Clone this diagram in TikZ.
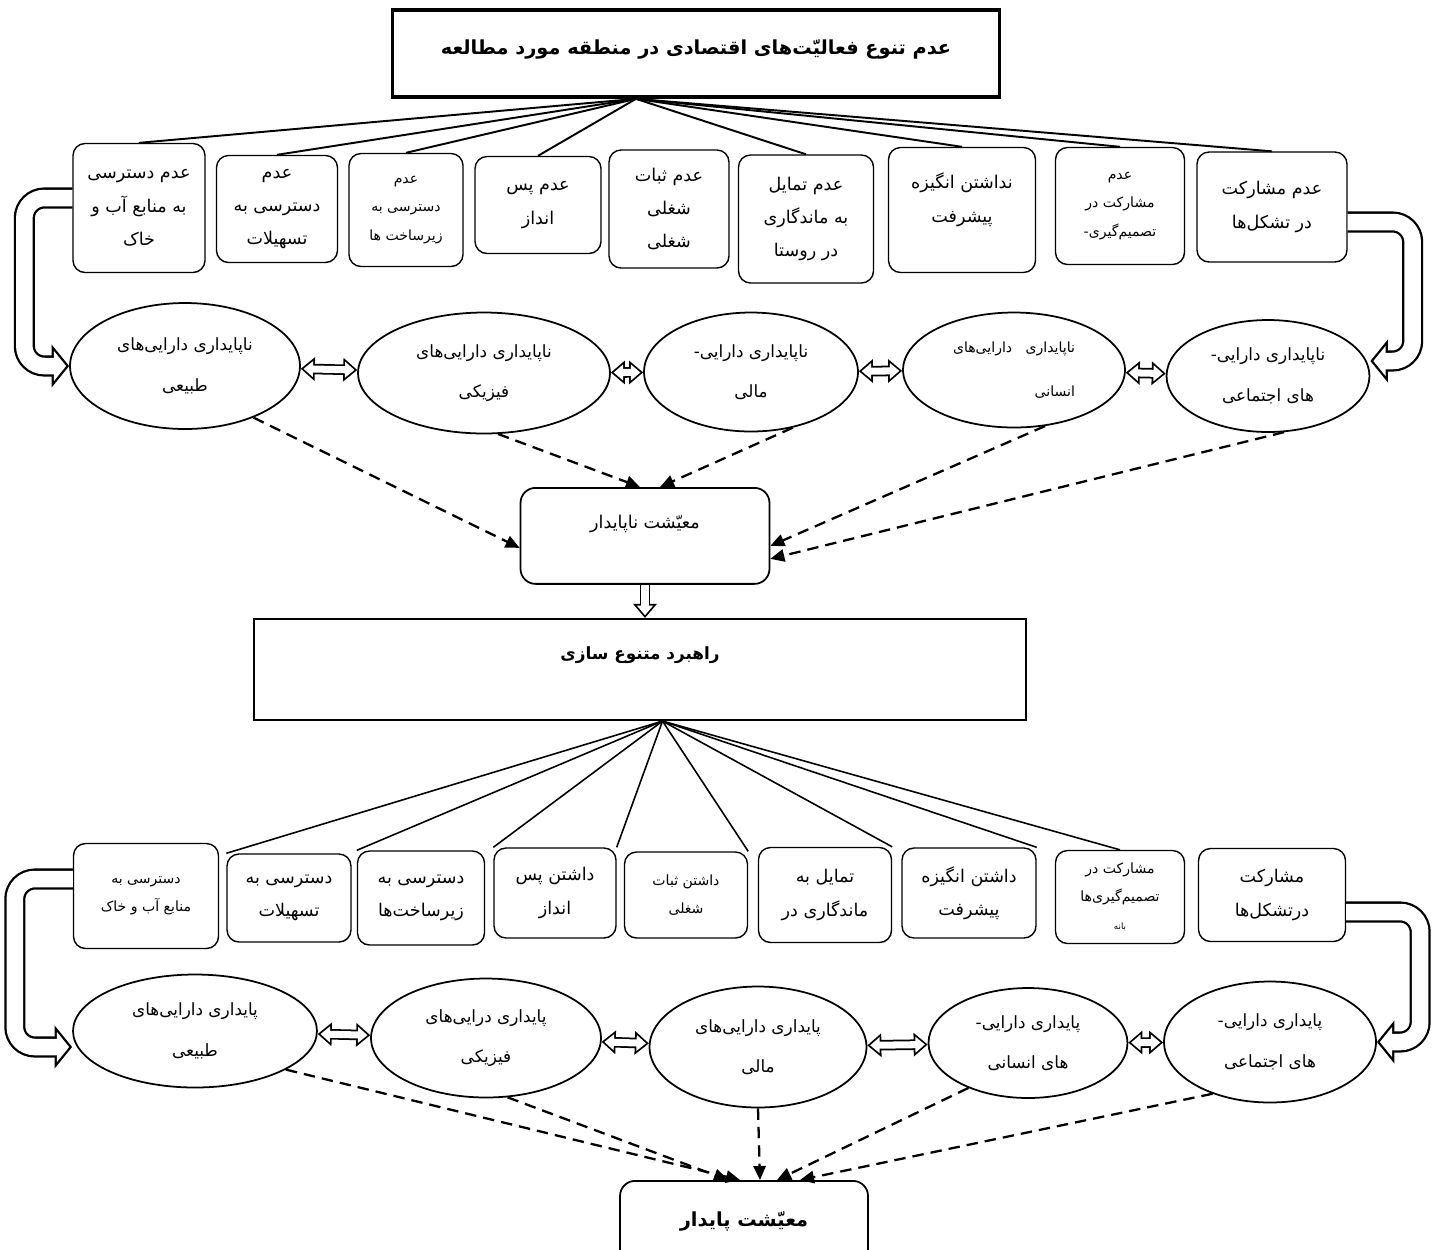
\documentclass[tikz,border=0pt]{standalone}
\usepackage{fontspec}
\usetikzlibrary{shapes.geometric,arrows.meta}
\newfontfamily\fafont[Script=Arabic]{DejaVu Sans}
\TeXXeTstate=1
\newcommand{\fa}[1]{\beginR #1\endR}

\tikzset{
  factor/.style={draw, rounded corners=0.24cm, line width=0.8pt, align=center,
    inner sep=1pt, font=\fafont\fontsize{10}{19}\selectfont},
  asset/.style={draw, ellipse, line width=1pt, inner sep=0pt, align=center,
    font=\fafont\fontsize{9.6}{23}\selectfont},
  smalltext/.style={font=\fafont\fontsize{8}{16}\selectfont},
  headbox/.style={draw, line width=1.2pt, inner sep=0pt, anchor=north,
    font=\fafont\bfseries\fontsize{11}{14}\selectfont},
  outcome/.style={headbox, rounded corners=0.3cm, line width=1pt},
  fan/.style={line width=1.1pt},
  effect/.style={line width=1.3pt, dash pattern=on 6.5pt off 4pt,
    -{Triangle[length=8pt,width=7pt]}},
  twoway/.style={draw=white, line width=4pt,
    {Triangle[length=5.4pt,width=8.8pt]}-{Triangle[length=5.4pt,width=8.8pt]},
    shorten <=1.6pt, shorten >=1.6pt,
    preaction={draw=black, line width=6pt,
      {Triangle[length=8pt,width=13pt]}-{Triangle[length=8pt,width=13pt]},
      shorten <=0pt, shorten >=0pt}},
  oneway/.style={draw=white, line width=4pt,
    -{Triangle[length=5.4pt,width=8.8pt]}, shorten >=1.6pt,
    preaction={draw=black, line width=6pt,
      -{Triangle[length=8pt,width=13pt]}, shorten >=0pt}},
  uturn/.style={draw=white, line width=9.4pt, rounded corners=0.4cm,
    -{Triangle[length=7pt,width=16.8pt]}, shorten >=1.7pt,
    preaction={draw=black, line width=12pt,
      -{Triangle[length=10pt,width=24pt]}, shorten >=0pt}}
}

\begin{document}
\begin{tikzpicture}[x=0.02cm, y=-0.02cm]
  \useasboundingbox (0,0) rectangle (1437,1249);

  % Problem
  \node[headbox, line width=2.2pt, minimum width=12.14cm, text height=0.9cm, text depth=0.84cm] (title) at (696,8)
    {\fa{عدم تنوع فعالی^^^^0651ت^^^^200cهای اقتصادی در منطقه مورد مطالعه}};

  % Causes
  \node[factor, minimum width=2.64cm, minimum height=2.58cm] (b1) at (139,208) {\fa{عدم دسترسی}\\\fa{به منابع آب و}\\\fa{خاک}};
  \node[factor, minimum width=2.42cm, minimum height=2.14cm] (b2) at (277,209) {\fa{عدم}\\\fa{دسترسی به}\\\fa{تسهیلات}};
  \node[factor, smalltext, minimum width=2.28cm, minimum height=2.26cm] (b3) at (406,210) {\fa{عدم}\\\fa{دسترسی به}\\\fa{زیرساخت ها}};
  \node[factor, minimum width=2.52cm, minimum height=1.94cm] (b4) at (538,205) {\fa{عدم پس}\\\fa{انداز}};
  \node[factor, minimum width=2.40cm, minimum height=2.36cm] (b5) at (669,209) {\fa{عدم ثبات}\\\fa{شغلی}\\\fa{شغلی}};
  \node[factor, minimum width=2.70cm, minimum height=2.56cm] (b6) at (806,219) {\fa{عدم تمایل}\\\fa{به ماندگاری}\\\fa{در روستا}};
  \node[factor, minimum width=2.94cm, minimum height=2.50cm] (b7) at (962,210) {\fa{نداشتن انگیزه}\\\fa{پیشرفت}\\[-5pt]};
  \node[factor, smalltext, minimum width=2.58cm, minimum height=2.34cm] (b8) at (1120,206) {\fa{عدم}\\\fa{مشارکت در}\\\fa{تصمیم^^^^200cگیری-}};
  \node[factor, minimum width=3.00cm, minimum height=2.20cm] (b9) at (1272,207) {\fa{عدم مشارکت}\\\fa{در تشکل^^^^200cها}};

  \foreach \b in {b1,b2,b3,b4,b6,b7,b8,b9}
    \draw[fan] ([xshift=-1.2cm]title.south) -- (\b.north);

  % Unstable assets
  \node[asset, minimum width=4.60cm, minimum height=2.52cm] (e1) at (185,366) {\fa{ناپایداری دارایی^^^^200cهای}\\\fa{طبیعی}};
  \node[asset, minimum width=5.04cm, minimum height=2.42cm] (e2) at (484,373) {\fa{ناپایداری دارایی^^^^200cهای}\\\fa{فیزیکی}};
  \node[asset, minimum width=4.28cm, minimum height=2.38cm] (e3) at (751,372) {\fa{ناپایداری دارایی-}\\\fa{مالی}};
  \node[asset, smalltext, align=right, minimum width=4.44cm, minimum height=2.30cm] (e4) at (1014,370) {\fa{ناپایداری\ \ \ دارایی^^^^200cهای}\\[9pt]\fa{انسانی}};
  \node[asset, minimum width=4.06cm, minimum height=2.24cm] (e5) at (1268,376) {\fa{ناپایداری دارایی-}\\\fa{های اجتماعی}};

  \draw[uturn] ([yshift=0.2cm]b1.west) -- ++(-48,0) |- (e1.west);
  \draw[uturn] ([yshift=-0.3cm]b9.east) -- ++(65,0) |- ([yshift=0.3cm]e5.east);
  \draw[twoway] (e1) -- (e2);
  \draw[twoway] (e2) -- (e3);
  \draw[twoway] (e3) -- (e4);
  \draw[twoway] (e4) -- (e5);

  \node[outcome, font=\fafont\fontsize{10}{14}\selectfont, minimum width=4.98cm, text height=0.82cm, text depth=1.1cm] (unst) at (645,487) {\fa{معی^^^^0651شت ناپایدار}};

  \draw[effect] (e1.-37) -- ([yshift=-0.24cm]unst.west);
  \draw[effect] (e2.-77) -- ([xshift=-0.1cm]unst.north);
  \draw[effect] (e3.-53) -- ([xshift=0.3cm]unst.north);
  \draw[effect] (e4.-61) -- ([yshift=-0.2cm]unst.east);
  \draw[effect] (e5.-74) -- ([yshift=-0.46cm]unst.east);

  % Strategy
  \node[headbox, font=\fafont\bfseries\fontsize{9.6}{14}\selectfont, minimum width=15.46cm, text height=0.8cm, text depth=1.22cm] (strat) at (640,618) {\fa{راهبرد متنوع سازی}};
  \draw[oneway] (unst.south) -- (unst.south |- strat.north);

  % Gains
  \node[factor, smalltext, minimum width=2.90cm, minimum height=2.10cm] (lb1) at (146,896) {\fa{دسترسی به}\\\fa{منابع آب و خاک}};
  \node[factor, minimum width=2.48cm, minimum height=1.76cm] (lb2) at (289,898) {\fa{دسترسی به}\\\fa{تسهیلات}};
  \node[factor, minimum width=2.54cm, minimum height=1.88cm] (lb3) at (421,898) {\fa{دسترسی به}\\\fa{زیرساخت^^^^200cها}};
  \node[factor, minimum width=2.44cm, minimum height=1.80cm] (lb4) at (555,893) {\fa{داشتن پس}\\\fa{انداز}};
  \node[factor, smalltext, minimum width=2.46cm, minimum height=1.72cm] (lb5) at (686,895) {\fa{داشتن ثبات}\\\fa{شغلی}};
  \node[factor, minimum width=2.66cm, minimum height=1.90cm] (lb6) at (825,895) {\fa{تمایل به}\\\fa{ماندگاری در}};
  \node[factor, minimum width=2.68cm, minimum height=1.80cm] (lb7) at (969,893) {\fa{داشتن انگیزه}\\\fa{پیشرفت}};
  \node[factor, smalltext, minimum width=2.58cm, minimum height=1.86cm] (lb8) at (1120,897) {\fa{مشارکت در}\\\fa{تصمیم^^^^200cگیری^^^^200cها}\\\fa{\tiny بانه}};
  \node[factor, minimum width=2.94cm, minimum height=1.86cm] (lb9) at (1272,895) {\fa{مشارکت}\\\fa{درتشکل^^^^200cها}};

  \foreach \p in {lb2.north west, lb3.north west, lb4.north west, lb4.north east,
                  lb5.north east, lb6.north east, lb7.north east, lb8.north}
    \draw[fan, line width=0.9pt] ([xshift=0.45cm]strat.south) -- (\p);

  % Stable assets
  \node[asset, minimum width=4.88cm, minimum height=2.26cm] (le1) at (195,1031) {\fa{پایداری دارایی^^^^200cهای}\\\fa{طبیعی}};
  \node[asset, minimum width=4.60cm, minimum height=2.38cm] (le2) at (486,1038) {\fa{پایداری درایی^^^^200cهای}\\\fa{فیزیکی}};
  \node[asset, minimum width=4.34cm, minimum height=2.42cm] (le3) at (758,1047) {\fa{پایداری دارایی^^^^200cهای}\\\fa{مالی}};
  \node[asset, minimum width=3.98cm, minimum height=2.20cm] (le4) at (1028,1043) {\fa{پایداری دارایی-}\\\fa{های انسانی}};
  \node[asset, minimum width=4.24cm, minimum height=2.42cm] (le5) at (1270,1042) {\fa{پایداری دارایی-}\\\fa{های اجتماعی}};

  \draw[uturn] ([yshift=0.34cm]lb1.west) -- ++(-58,0) |- ([yshift=-0.32cm]le1.west);
  \draw[uturn] ([yshift=-0.34cm]lb9.east) -- ++(74,0) |- (le5.east);
  \draw[twoway] (le1) -- (le2);
  \draw[twoway] (le2) -- (le3);
  \draw[twoway] (le3) -- (le4);
  \draw[twoway] (le4) -- (le5);

  \node[outcome, minimum width=4.96cm, text height=0.92cm, text depth=0.9cm] (stable) at (744,1180) {\fa{معی^^^^0651شت پایدار}};

  \draw[effect] (le1.-23) -- ([xshift=-0.08cm]stable.north);
  \draw[effect] (le2.-70) -- ([xshift=-0.32cm]stable.north);
  \draw[effect] (le3.south) -- ([xshift=0.32cm]stable.north);
  \draw[effect] (le4.-143) -- ([xshift=0.66cm]stable.north);
  \draw[effect] (le5.-138) -- ([xshift=1.12cm]stable.north);
\end{tikzpicture}
\end{document}
